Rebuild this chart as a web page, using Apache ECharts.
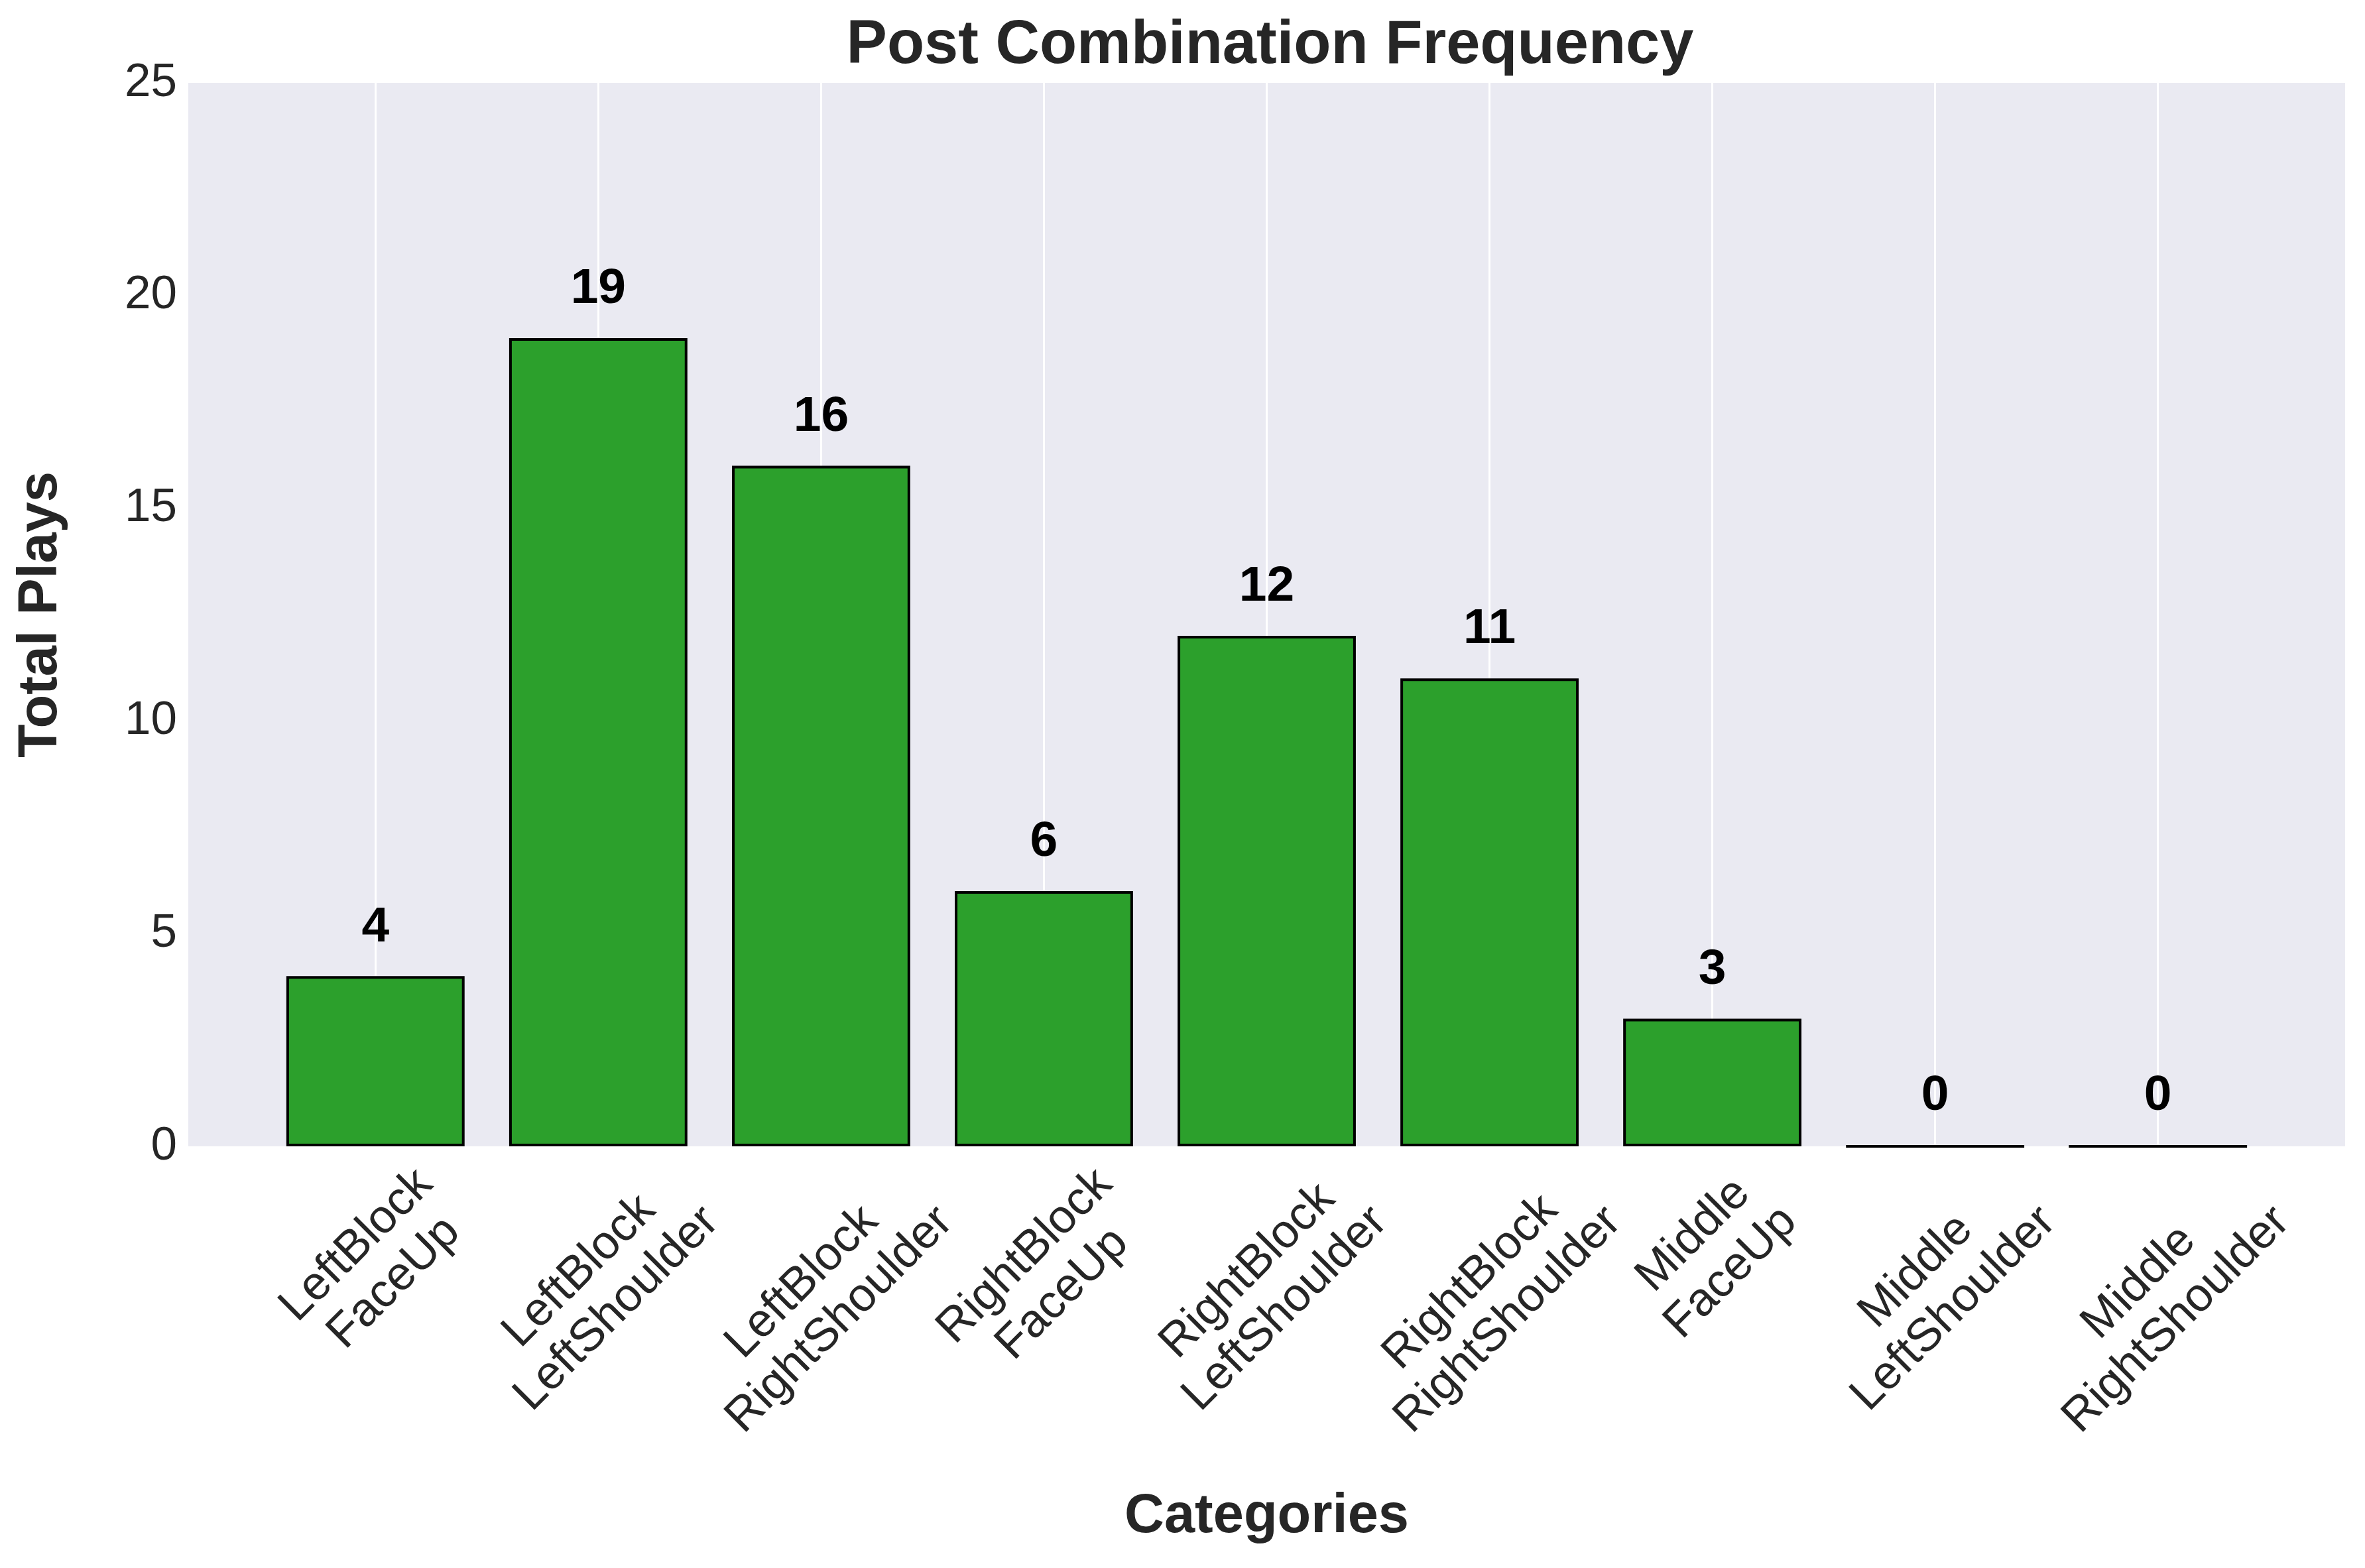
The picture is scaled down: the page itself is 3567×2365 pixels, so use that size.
<!DOCTYPE html>
<html>
<head>
<meta charset="utf-8">
<title>Post Combination Frequency</title>
<script src="https://cdn.jsdelivr.net/npm/echarts@6/dist/echarts.min.js"></script>
<style>
  html, body { margin: 0; padding: 0; background: #ffffff; }
  #chart { width: 3567px; height: 2365px; }
</style>
</head>
<body>
<div id="chart"></div>
<script>
// data
const blocks = ['LeftBlock', 'LeftBlock', 'LeftBlock', 'RightBlock', 'RightBlock', 'RightBlock', 'Middle', 'Middle', 'Middle'];
const moves = ['FaceUp', 'LeftShoulder', 'RightShoulder', 'FaceUp', 'LeftShoulder', 'RightShoulder', 'FaceUp', 'LeftShoulder', 'RightShoulder'];
const plays = [4, 19, 16, 6, 12, 11, 3, 0, 0];
const yMin = 0, yMax = 25, yStep = 5;

const categories = blocks.map((b, i) => b + '\n' + moves[i]);

// layout
const FONT = '"Liberation Sans", Arial, Helvetica, sans-serif';
const INK = '#262626';
const TICK_SIZE = 71;
const LINE_H = 80;
const plot = { left: 284, right: 30, top: 125, bottom: 636 };
const xPad = 0.84;   // matplotlib-style margin, in category units
const plotW = 3567 - plot.left - plot.right;
const unit = plotW / (categories.length - 1 + 2 * xPad);
const inset = (xPad - 0.5) * unit;

// matplotlib centres the rotated bbox under the tick and hangs its top from the axis,
// so the centre of each label sits lower the longer the label is
const ctx = document.createElement('canvas').getContext('2d');
ctx.font = TICK_SIZE + 'px ' + FONT;
function labelMargin(text) {
  const w = Math.max(...text.split('\n').map(s => ctx.measureText(s).width));
  return 18 + (w + 2 * LINE_H) * Math.SQRT1_2 / 2;
}

const chart = echarts.init(document.getElementById('chart'));

const labelAxes = categories.map((c, i) => ({
  type: 'category',
  gridIndex: 1,
  data: categories,
  position: 'bottom',
  axisLine: { show: false },
  axisTick: { show: false },
  splitLine: { show: false },
  axisLabel: {
    interval: 0,
    rotate: 45,
    align: 'center',
    verticalAlign: 'middle',
    margin: labelMargin(c),
    fontFamily: FONT,
    fontSize: TICK_SIZE,
    lineHeight: LINE_H,
    color: INK,
    formatter: (v, idx) => (idx === i ? v : '')
  }
}));

const option = {
  animation: false,
  backgroundColor: '#ffffff',
  title: {
    text: 'Post Combination Frequency',
    left: plot.left + plotW / 2,
    textAlign: 'center',
    top: 19,
    textStyle: { fontFamily: FONT, fontSize: 92, fontWeight: 'bold', color: INK, lineHeight: 92 }
  },
  grid: [
    // background panel
    { left: plot.left, right: plot.right, top: plot.top, bottom: plot.bottom,
      show: true, backgroundColor: '#EAEAF2', borderWidth: 0 },
    // bars
    { left: plot.left + inset, right: plot.right + inset, top: plot.top, bottom: plot.bottom },
    // white grid lines through the bar centres
    { left: plot.left + xPad * unit, right: plot.right + xPad * unit, top: plot.top, bottom: plot.bottom }
  ],
  xAxis: [
    { type: 'value', gridIndex: 0, show: false },
    {
      type: 'category',
      gridIndex: 1,
      data: categories,
      name: 'Categories',
      nameLocation: 'middle',
      nameGap: 518,
      nameTextStyle: { fontFamily: FONT, fontSize: 83, fontWeight: 'bold', color: INK, lineHeight: 83 },
      axisLine: { show: false },
      axisTick: { show: false },
      axisLabel: { show: false },
      splitLine: { show: false }
    },
    {
      type: 'value',
      gridIndex: 2,
      min: 0,
      max: categories.length - 1,
      interval: 1,
      axisLine: { show: false },
      axisTick: { show: false },
      axisLabel: { show: false },
      splitLine: { show: true, lineStyle: { color: '#ffffff', width: 3 } }
    },
    ...labelAxes
  ],
  yAxis: [
    {
      type: 'value',
      gridIndex: 0,
      min: yMin,
      max: yMax,
      interval: yStep,
      name: 'Total Plays',
      nameLocation: 'middle',
      nameGap: 180,
      nameTextStyle: { fontFamily: FONT, fontSize: 83, fontWeight: 'bold', color: INK, lineHeight: 83 },
      axisLine: { show: false },
      axisTick: { show: false },
      splitLine: { show: false },
      axisLabel: { margin: 17, fontFamily: FONT, fontSize: TICK_SIZE, color: INK }
    },
    { type: 'value', gridIndex: 1, min: yMin, max: yMax, interval: yStep, show: false },
    { type: 'value', gridIndex: 2, min: yMin, max: yMax, interval: yStep, show: false }
  ],
  series: [{
    type: 'bar',
    xAxisIndex: 1,
    yAxisIndex: 1,
    data: plays,
    barWidth: '80%',
    itemStyle: { color: '#2ca02c', borderColor: '#000000', borderWidth: 4 },
    label: {
      show: true,
      position: 'top',
      distance: 36,
      fontFamily: FONT,
      fontSize: 75,
      fontWeight: 'bold',
      color: '#000000',
      lineHeight: 75
    }
  }]
};

chart.setOption(option);
</script>
</body>
</html>
